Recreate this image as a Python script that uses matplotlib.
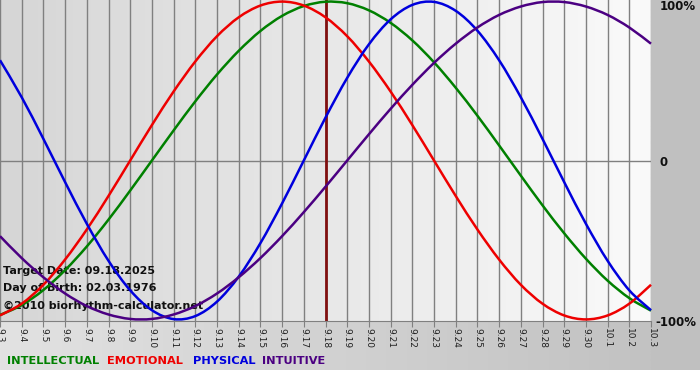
import numpy as np
import matplotlib.pyplot as plt
from matplotlib.colors import LinearSegmentedColormap
from matplotlib.patches import Rectangle, PathPatch
from matplotlib.path import Path

# days shown on the chart (9.3 .. 10.3), target day is 9.18
dates = ["9.3", "9.4", "9.5", "9.6", "9.7", "9.8", "9.9", "9.10", "9.11", "9.12",
         "9.13", "9.14", "9.15", "9.16", "9.17", "9.18", "9.19", "9.20", "9.21",
         "9.22", "9.23", "9.24", "9.25", "9.26", "9.27", "9.28", "9.29", "9.30",
         "10.1", "10.2", "10.3"]
target = "9.18"

physical = [0.631, 0.398, 0.136, -0.136, -0.398, -0.631, -0.817, -0.942, -0.998, -0.979,
            -0.888, -0.731, -0.520, -0.270, 0.0, 0.270, 0.520, 0.731, 0.888, 0.979,
            0.998, 0.942, 0.817, 0.631, 0.398, 0.136, -0.136, -0.398, -0.631, -0.817, -0.942]
emotional = [-0.975, -0.901, -0.782, -0.623, -0.434, -0.223, 0.0, 0.223, 0.434, 0.623,
             0.782, 0.901, 0.975, 1.0, 0.975, 0.901, 0.782, 0.623, 0.434, 0.223,
             0.0, -0.223, -0.434, -0.623, -0.782, -0.901, -0.975, -1.0, -0.975, -0.901, -0.782]
intellectual = [-0.972, -0.910, -0.815, -0.690, -0.541, -0.372, -0.189, 0.0, 0.189, 0.372,
                0.541, 0.690, 0.815, 0.910, 0.972, 0.999, 0.990, 0.945, 0.866, 0.756,
                0.618, 0.458, 0.282, 0.095, -0.095, -0.282, -0.458, -0.618, -0.756, -0.866, -0.945]
intuitive = [-0.476, -0.614, -0.735, -0.837, -0.916, -0.969, -0.997, -0.997, -0.969, -0.916,
             -0.837, -0.735, -0.614, -0.476, -0.325, -0.165, 0.0, 0.165, 0.325, 0.476,
             0.614, 0.735, 0.837, 0.916, 0.969, 0.997, 0.997, 0.969, 0.916, 0.837, 0.735]


def smooth_path(xs, ys):
    # catmull-rom through the daily points, drawn as bezier segments
    pts = np.column_stack([xs, ys]).astype(float)
    verts = [pts[0]]
    codes = [Path.MOVETO]
    n = len(pts)
    for i in range(n - 1):
        p0 = pts[max(i - 1, 0)]
        p1 = pts[i]
        p2 = pts[i + 1]
        p3 = pts[min(i + 2, n - 1)]
        verts += [p1 + (p2 - p0) / 6, p2 - (p3 - p1) / 6, p2]
        codes += [Path.CURVE4] * 3
    return Path(verts, codes)


fig = plt.figure(figsize=(7, 3.8), dpi=100)
fig.patch.set_facecolor("white")

# background in pixel coords
bg = fig.add_axes([0, 0, 1, 1])
grad = np.linspace(0, 1, 256).reshape(1, -1)
bg.imshow(grad, cmap=LinearSegmentedColormap.from_list("band", ["#e2e2e2", "#c2c2c2"]),
          extent=(0, 651, 370, 321), aspect="auto")
bg.add_patch(Rectangle((651, 0), 49, 370, color="#c0c0c0", lw=0))
bg.set_xlim(0, 700)
bg.set_ylim(380, 0)
bg.axis("off")

ax = fig.add_axes([0, 59 / 380, 651 / 700, 321 / 380])
x = np.arange(len(dates))
ax.imshow(grad, cmap=LinearSegmentedColormap.from_list("plot", ["#d6d6d6", "#fafafa"]),
          extent=(0, len(dates) - 1, -1.01, 1.01), aspect="auto", zorder=0)

for xi in x:
    ax.axvline(xi, color="#808080", lw=1, zorder=1)
ax.axhline(0, color="#808080", lw=1, zorder=1)
ax.axvline(dates.index(target), color="#801010", lw=2, zorder=2)

for vals, col in [(intellectual, "#008000"), (emotional, "#ee0000"),
                  (physical, "#0000dd"), (intuitive, "#4b0082")]:
    ax.add_patch(PathPatch(smooth_path(x, vals), fill=False, edgecolor=col,
                           lw=1.8, zorder=4, clip_on=False))

ax.set_xlim(0, len(dates) - 1)
ax.set_ylim(-1.01, 1.01)
ax.set_yticks([])
ax.set_xticks(x)
ax.set_xticklabels(dates, rotation=270, fontsize=6.5, color="#202020")
ax.tick_params(axis="x", length=4, color="#808080", pad=1)
for s in ["top", "left", "right"]:
    ax.spines[s].set_visible(False)
ax.spines["bottom"].set_color("#808080")

# info text
info = ["Target Date: 09.18.2025", "Day of Birth: 02.03.1976", "\u00a92010 biorhythm-calculator.net"]
for txt, yy in zip(info, [271, 288, 306]):
    ax.text(3, yy, txt, transform=bg.transData, fontsize=8, fontweight="bold",
            color="#101010", va="center", ha="left", zorder=3, clip_on=False)

# right labels
for txt, xx, yy in [("100%", 660, 7), ("0", 660, 162), ("-100%", 655, 322)]:
    bg.text(xx, yy, txt, fontsize=8.5, fontweight="bold", color="#101010",
            va="center", ha="left")

# legend
for txt, col, xx in [("INTELLECTUAL", "#008000", 7), ("EMOTIONAL", "#ee0000", 107),
                     ("PHYSICAL", "#0000dd", 193), ("INTUITIVE", "#4b0082", 262)]:
    bg.text(xx, 361, txt, fontsize=8.2, fontweight="bold", color=col, va="center", ha="left")

fig.savefig("out.png", dpi=100)
